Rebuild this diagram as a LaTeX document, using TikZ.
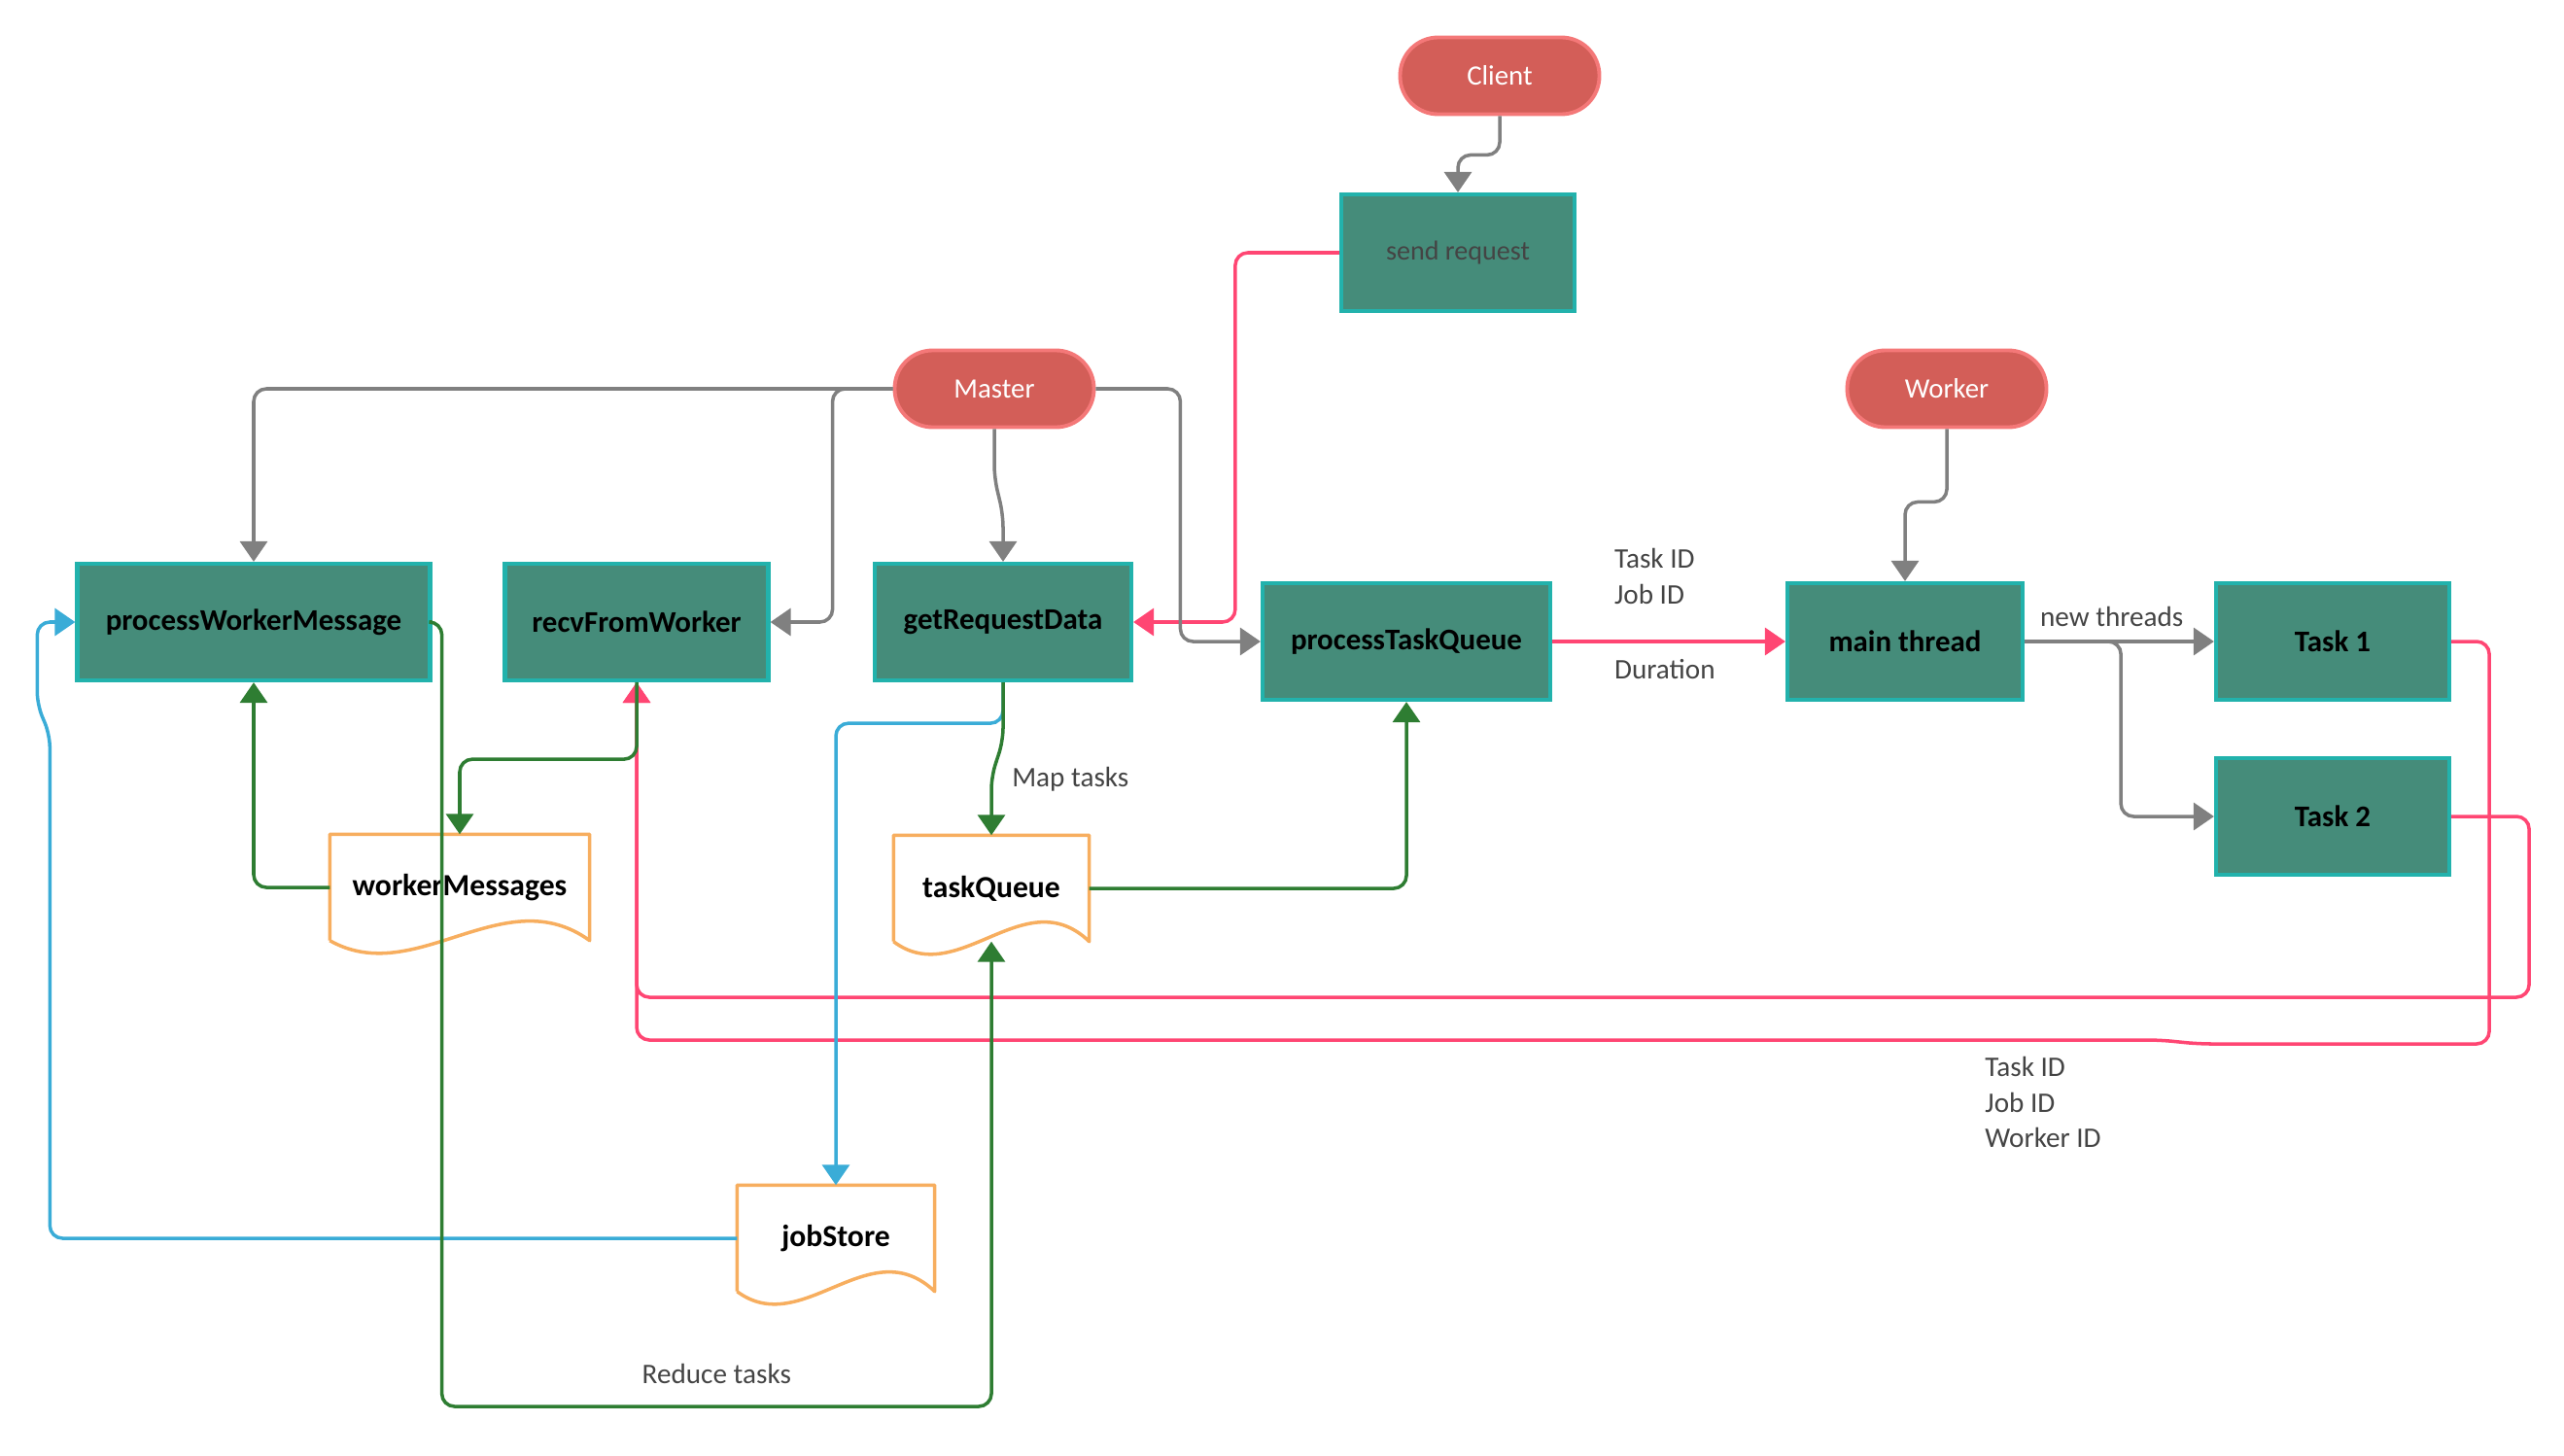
\documentclass[tikz,border=0pt]{standalone}
\usepackage{fontspec}
\setmainfont{Carlito}
\usepackage{xcolor}
\usepackage{tikz}
\usetikzlibrary{positioning, arrows.meta, calc}

\definecolor{pillfill}{HTML}{D35E58}
\definecolor{pilledge}{HTML}{F47878}
\definecolor{boxfill}{HTML}{458C7A}
\definecolor{boxedge}{HTML}{22B2AC}
\definecolor{docedge}{HTML}{F7AE5F}
\definecolor{linegray}{HTML}{808080}
\definecolor{linepink}{HTML}{FF4673}
\definecolor{lineblue}{HTML}{3AACD7}
\definecolor{linegreen}{HTML}{2E7D32}
\definecolor{textgray}{HTML}{444444}

% document outline with a wavy bottom
\newcommand{\docoutline}[1]{%
  \draw[docedge, line width=1pt, line join=round]
    (#1.south west) -- (#1.north west) -- (#1.north east) -- (#1.south east)
    .. controls ($(#1.south east)!0.33!(#1.south west)+(0,0.64)$)
    and ($(#1.south west)!0.33!(#1.south east)+(0,-0.5)$) .. (#1.south west);}

\begin{document}
\begin{tikzpicture}[
        pill/.style={rectangle, rounded corners=0.39cm, fill=pillfill, draw=pilledge, line width=1.1pt,
            minimum width=2.05cm, minimum height=0.79cm, text=white, font=\fontsize{8.2}{10}\selectfont},
        box/.style={rectangle, fill=boxfill, draw=boxedge, line width=1.2pt, minimum width=2.4cm,
            minimum height=1.2cm, font=\fontsize{8.8}{10}\selectfont\bfseries},
        store/.style={rectangle, minimum width=2.02cm, minimum height=1.08cm, inner sep=0pt,
            font=\fontsize{9}{10}\selectfont\bfseries},
        lbl/.style={text=textgray, font=\fontsize{8.3}{10.4}\selectfont, inner sep=1pt, align=left},
        flow/.style={line width=1pt, rounded corners=0.13cm, -{Triangle[width=0.28cm, length=0.21cm]}},
    ]
    \useasboundingbox (0,0) rectangle (26.38,-14.98);

    % Actors
    \node[pill] (client) at (15.43,-0.78) {Client};
    \node[pill] (master) at (10.23,-4.00) {Master};
    \node[pill] (worker) at (20.03,-4.00) {Worker};

    % Steps
    \node[box, font=\fontsize{8}{10}\selectfont, text=textgray] (sendreq) at (15.00,-2.60) {send request};
    \node[box, minimum width=3.63cm] (pwm) at (2.61,-6.40) {processWorkerMessage};
    \node[box, minimum width=2.71cm] (rfw) at (6.55,-6.40) {recvFromWorker};
    \node[box, minimum width=2.64cm] (grd) at (10.32,-6.40) {getRequestData};
    \node[box, minimum width=2.96cm] (ptq) at (14.47,-6.60) {processTaskQueue};
    \node[box, minimum width=2.42cm] (mainthr) at (19.60,-6.60) {main thread};
    \node[box] (task1) at (24.00,-6.60) {Task 1};
    \node[box] (task2) at (24.00,-8.40) {Task 2};

    % Stores
    \node[store, minimum width=2.66cm] (workermsgs) at (4.73,-9.13) {workerMessages};
    \node[store, minimum width=2.00cm] (taskqueue) at (10.20,-9.14) {taskQueue};
    \node[store] (jobstore) at (8.60,-12.74) {jobStore};
    \docoutline{workermsgs}
    \docoutline{taskqueue}
    \docoutline{jobstore}

    % Client side
    \draw[flow, linegray] (client.south) -- ++(0,-0.4) -| (sendreq.north);
    \draw[flow, linepink] (sendreq.west) -- ++(-1.07,0) |- (grd.east);

    % Master side
    \draw[flow, linegray] (master.west) -| (pwm.north);
    \draw[flow, linegray] (master.west) -- ++(-0.62,0) |- (rfw.east);
    \draw[flow, linegray] (master.south) -- ++(0,-0.5) -- ++(0.09,-0.38) -- (grd.north);
    \draw[flow, linegray] (master.east) -- ++(0.87,0) |- (ptq.west);

    % Worker side
    \draw[flow, linepink] (ptq.east) -- node[lbl, pos=0.245, anchor=south west, yshift=0.33cm] {Task ID\\Job ID}
        node[lbl, pos=0.245, anchor=north west, yshift=-0.13cm] {Duration} (mainthr.west);
    \draw[flow, linegray] (worker.south) -- ++(0,-0.75) -| (mainthr.north);
    \draw[flow, linegray] (mainthr.east) -- node[lbl, above, pos=0.46, yshift=0.1cm] {new threads} (task1.west);
    \draw[flow, linegray] (mainthr.east) -- ++(0.99,0) |- (task2.west);

    % Results back to the master
    \draw[flow, linepink] (task1.east) -- ++(0.39,0) -- ++(0,-4.14) -- ++(-2.99,0) -- ++(-0.4,0.04)
        -| node[lbl, pos=0.059, anchor=north west, yshift=-0.12cm] {Task ID\\Job ID\\Worker ID} (rfw.south);
    \draw[flow, linepink] (task2.east) -- ++(0.8,0) -- ++(0,-1.86) -| (rfw.south);

    % Queues and stores
    \draw[flow, lineblue] (grd.south) -- ++(0,-0.42) -| (jobstore.north);
    \draw[flow, linegreen] (grd.south) -- ++(0,-0.6) -- ++(-0.12,-0.37)
        -- node[lbl, right=0.16cm, pos=0.05] {Map tasks} (taskqueue.north);
    \draw[flow, lineblue] (jobstore.west) -- ++(-7.07,0) -- ++(0,5.18) -- ++(-0.13,0.31) |- (pwm.west);
    \draw[flow, linegreen] (workermsgs.west) -| (pwm.south);
    \draw[flow, linegreen] (rfw.south) -- ++(0,-0.79) -| (workermsgs.north);
    \draw[flow, linegreen] (pwm.east) -- ++(0.1,0) -- ++(0,-8.07)
        -| node[lbl, above, pos=0.25, yshift=0.18cm] {Reduce tasks} (taskqueue.south);
    \draw[flow, linegreen] (taskqueue.east) -| (ptq.south);
\end{tikzpicture}
\end{document}
